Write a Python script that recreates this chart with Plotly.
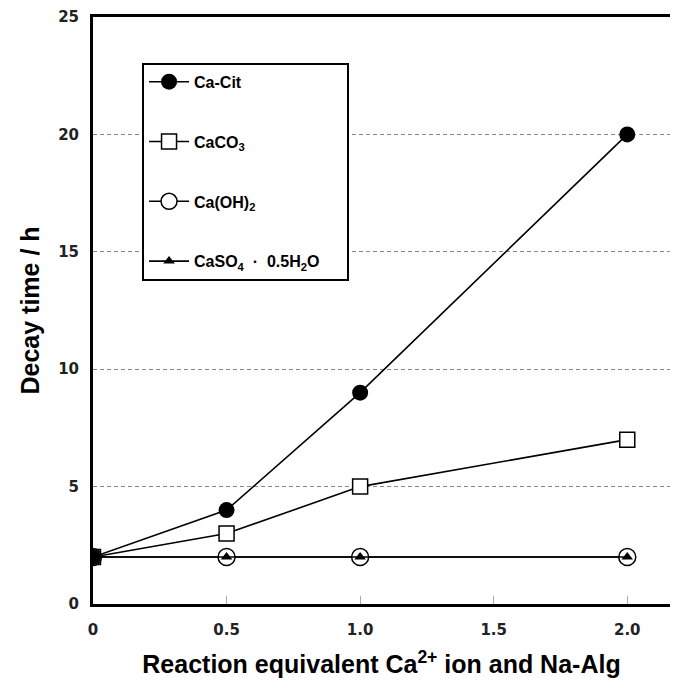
import plotly.graph_objects as go

x_vals = [0, 0.5, 1.0, 2.0]
ca_cit = [2, 4, 9, 20]
caco3 = [2, 3, 5, 7]
caoh2 = [2, 2, 2, 2]
caso4 = [2, 2, 2, 2]

x_ticks = [0, 0.5, 1.0, 1.5, 2.0]
x_ticklabels = ["0", "0.5", "1.0", "1.5", "2.0"]
y_ticks = [0, 5, 10, 15, 20, 25]

names = {
    "cit": "<b>Ca-Cit</b>",
    "co3": "<b>CaCO<sub>3</sub></b>",
    "oh": "<b>Ca(OH)<sub>2</sub></b>",
    "so4": "<b>CaSO<sub>4</sub>  ·  0.5H<sub>2</sub>O</b>&nbsp;&nbsp;&nbsp;&nbsp;&nbsp;",
}

line = dict(color="black", width=1.6)
fig = go.Figure()
fig.add_trace(go.Scatter(x=x_vals, y=caco3, name=names["co3"], mode="lines+markers",
                         line=line, legendrank=2, legendgroup="b",
                         marker=dict(symbol="square", size=15, color="white",
                                     line=dict(color="black", width=1.5))))
fig.add_trace(go.Scatter(x=x_vals, y=caoh2, name=names["oh"], mode="lines+markers",
                         line=line, legendrank=3, legendgroup="c",
                         marker=dict(symbol="circle", size=17, color="white",
                                     line=dict(color="black", width=1.5))))
fig.add_trace(go.Scatter(x=x_vals, y=caso4, name=names["so4"], mode="lines+markers",
                         line=line, legendrank=4, legendgroup="d",
                         marker=dict(symbol="triangle-up", size=10, color="black")))
fig.add_trace(go.Scatter(x=x_vals, y=ca_cit, name=names["cit"], mode="lines+markers",
                         line=line, legendrank=1, legendgroup="a",
                         marker=dict(symbol="circle", size=16, color="black")))

font_ticks = dict(family="DejaVu Sans", size=15, color="#222", weight="bold")
title_font = dict(family="Liberation Sans", size=25, color="black", weight="bold")
fig.update_layout(
    width=676, height=691,
    margin=dict(l=93, r=6, t=17, b=87),
    paper_bgcolor="white", plot_bgcolor="white",
    showlegend=True,
    legend=dict(x=0.085, y=0.922, xanchor="left", yanchor="top",
                bordercolor="black", borderwidth=2, bgcolor="white",
                font=dict(family="Liberation Sans", size=16, color="black"),
                tracegroupgap=36, itemwidth=40),
    xaxis=dict(range=[0, 2.16], tickvals=x_ticks, ticktext=x_ticklabels,
               showgrid=False, zeroline=False, showline=True, linecolor="black",
               linewidth=3, mirror=True, ticks="inside", ticklen=8,
               tickcolor="#aaa", tickwidth=1, tickfont=font_ticks,
               ticklabelstandoff=10,
               title=dict(text="Reaction equivalent Ca<sup>2+</sup> ion and Na-Alg",
                          font=title_font, standoff=18)),
    yaxis=dict(range=[0, 25], tickvals=y_ticks, showgrid=True, gridcolor="#888",
               griddash="4px,3px", gridwidth=1, zeroline=False, showline=True,
               linecolor="black", linewidth=3, ticks="", tickfont=font_ticks,
               ticklabelstandoff=8,
               title=dict(text="Decay time / h", font=title_font, standoff=12)),
)
fig.write_html("out.html")
